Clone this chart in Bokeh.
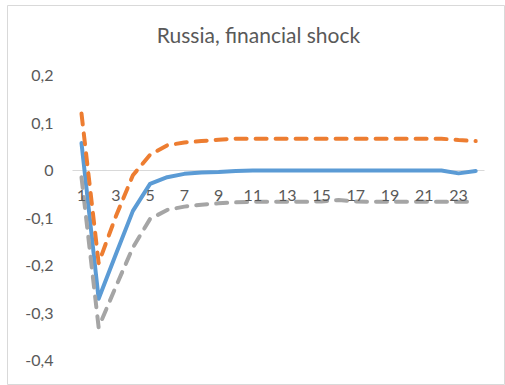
from bokeh.plotting import figure
from bokeh.models import Range1d, FixedTicker, CustomJSTickFormatter, Label, LinearAxis
from bokeh.embed import file_html
from bokeh.resources import INLINE

# ---- data ----
periods = list(range(1, 25))
response = [0.058, -0.270, -0.177, -0.085, -0.028, -0.014, -0.007, -0.004,
            -0.003, -0.001, 0.000, 0.000, 0.000, 0.000, 0.000, 0.000,
            0.000, 0.000, 0.000, 0.000, 0.000, 0.000, -0.006, -0.001]
upper_band = [0.120, -0.195, -0.097, -0.010, 0.033, 0.053, 0.059, 0.062,
              0.065, 0.067, 0.067, 0.067, 0.067, 0.067, 0.067, 0.067,
              0.067, 0.067, 0.067, 0.067, 0.067, 0.067, 0.064, 0.062]
lower_band = [-0.014, -0.330, -0.245, -0.162, -0.102, -0.083, -0.076, -0.072,
              -0.069, -0.067, -0.066, -0.066, -0.066, -0.066, -0.065, -0.062,
              -0.065, -0.066, -0.066, -0.066, -0.066, -0.066, -0.066, -0.066]
x_ticks = [1, 3, 5, 7, 9, 11, 13, 15, 17, 19, 21, 23]
y_ticks = [-0.4, -0.3, -0.2, -0.1, 0.0, 0.1, 0.2]
title_text = "Russia, financial shock"

FONT = "Lato"
TXT = "#595959"

p = figure(width=505, height=385, output_backend="svg", toolbar_location=None,
           x_range=Range1d(-3.317, 25.738), y_range=Range1d(-0.4526, 0.3474),
           min_border_left=7, min_border_top=5, min_border_right=0,
           min_border_bottom=0, title=None)
p.background_fill_color = "white"
p.border_fill_color = "white"
p.outline_line_color = "#D9D9D9"
p.outline_line_width = 1
p.xgrid.visible = False
p.ygrid.visible = False

# series
p.line(periods, response, line_color="#5B9BD5", line_width=4, line_join="round", line_cap="round")
p.line(periods, upper_band, line_color="#ED7D31", line_width=4, line_dash="11 9", line_join="round", line_cap="round")
p.line(periods, lower_band, line_color="#A5A5A5", line_width=4, line_dash="11 9", line_join="round", line_cap="round")

# x axis: line (under the series)
xa = p.xaxis[0]
xa.fixed_location = 0
xa.bounds = (0.5, 24.5)
xa.level = "underlay"
xa.ticker = FixedTicker(ticks=x_ticks)
xa.axis_line_color = "#D9D9D9"
xa.axis_line_width = 1
xa.major_tick_line_color = None
xa.minor_tick_line_color = None
xa.major_label_text_font_size = "0px"
xa.major_label_text_color = None

# x axis: labels (on top)
xl = LinearAxis(fixed_location=0, ticker=FixedTicker(ticks=x_ticks))
xl.axis_line_color = None
xl.major_tick_line_color = None
xl.minor_tick_line_color = None
xl.major_tick_in = 0
xl.major_tick_out = 0
xl.major_label_standoff = 19
xl.major_label_text_font = FONT
xl.major_label_text_font_size = "16px"
xl.major_label_text_color = TXT
p.add_layout(xl, "below")

# y axis
ya = p.yaxis[0]
ya.fixed_location = -0.342
ya.ticker = FixedTicker(ticks=y_ticks)
ya.formatter = CustomJSTickFormatter(code="""
    if (Math.abs(tick) < 1e-9) return "0";
    return tick.toFixed(1).replace(".", ",");
""")
ya.axis_line_color = None
ya.major_tick_line_color = None
ya.minor_tick_line_color = None
ya.major_tick_in = 0
ya.major_tick_out = 0
ya.major_label_standoff = 5
ya.major_label_text_font = FONT
ya.major_label_text_font_size = "16px"
ya.major_label_text_color = TXT

# title
title = Label(x=251, y=351, x_units="screen", y_units="screen", text=title_text,
              text_align="center", text_baseline="alphabetic", text_font=FONT,
              text_font_size="21px", text_color=TXT)
p.add_layout(title)

open("out.html", "w").write(file_html(p, INLINE))
